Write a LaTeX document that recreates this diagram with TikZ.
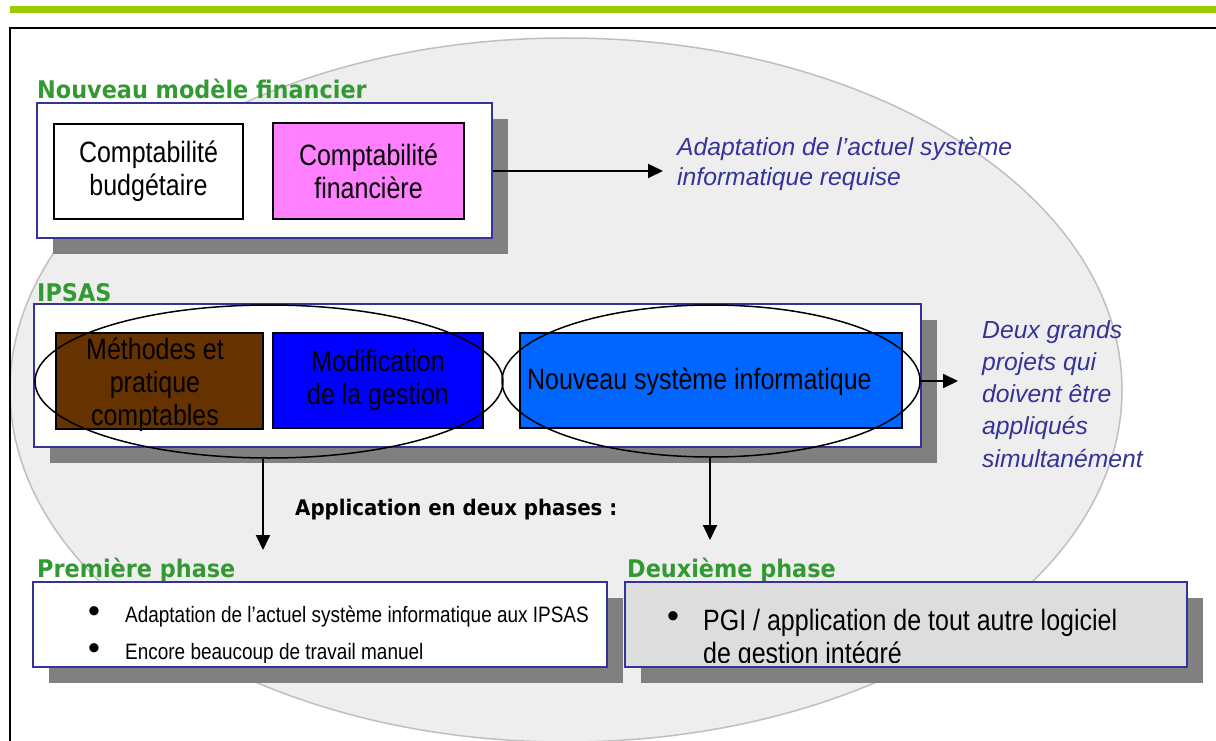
\documentclass[tikz,border=0pt]{standalone}
\usepackage{fontspec}
\setmainfont{Liberation Sans}
\newfontfamily\cond[FakeStretch=0.85]{Liberation Sans}
\newfontfamily\headfont[FakeStretch=0.92]{DejaVu Sans}
\usetikzlibrary{arrows.meta,shapes.geometric,shadows}
\definecolor{hgreen}{HTML}{339933}
\definecolor{navy}{HTML}{333399}
\definecolor{topgreen}{HTML}{99CC00}
\definecolor{magbox}{HTML}{FF80FF}
\definecolor{brownbox}{HTML}{663300}
\definecolor{bluebox}{HTML}{0000FF}
\definecolor{lbluebox}{HTML}{0066FF}
\definecolor{grayfill}{HTML}{DDDDDD}
\definecolor{shadowgray}{HTML}{808080}
\definecolor{bgfill}{HTML}{EEEEEE}
\tikzset{
  heading/.style={font=\headfont\bfseries\fontsize{24.3}{28}\selectfont, text=hgreen, anchor=base west, inner sep=0pt},
  outerbox/.style={draw=navy, line width=2pt, fill=white, rectangle, inner sep=0pt,
     general shadow={fill=shadowgray, shadow xshift=16pt, shadow yshift=-16pt}},
  innerbox/.style={draw=black, line width=1.5pt, rectangle, inner sep=0pt},
  boxtext/.style={font=\cond\fontsize{29.4}{33}\selectfont, align=center, inner sep=0pt},
  note/.style={font=\itshape\fontsize{24.7}{32}\selectfont, text=navy, anchor=base west, inner sep=0pt},
  ring/.style={ellipse, draw=black, line width=1.5pt, inner sep=0pt},
  arr/.style={line width=2pt, -{Triangle[length=15pt,width=14pt]}},
}
\newcommand{\blt}[2]{\makebox[#1][l]{\raisebox{#2}{\rmfamily\fontsize{34}{34}\selectfont •}}}
\begin{document}
\begin{tikzpicture}[x=1pt,y=-1pt]
\useasboundingbox (0,0) rectangle (1216,741);
% background ellipse
\fill[bgfill] (566,390) ellipse [x radius=556pt, y radius=352pt];
\draw[gray!50, line width=1.5pt] (566,390) ellipse [x radius=556pt, y radius=352pt];
% top bar and frame
\draw[topgreen, line width=7pt] (10,9.5) -- (1216,9.5);
\draw[black, line width=2pt] (10,741) -- (10,28) -- (1216,28);

% ---- Nouveau modele financier
\node[heading] (h1) at (37,99) {Nouveau modèle financier};
\node[outerbox, minimum width=455pt, minimum height=135pt] (b1) at (264.5,170.5) {};
\node[innerbox, fill=white, minimum width=189pt, minimum height=95pt] (cb) at (148.5,171.5) {};
\node[boxtext] at (cb.center) {Comptabilité\\budgétaire};
\node[innerbox, fill=magbox, minimum width=191pt, minimum height=96pt] (cf) at (368.5,171) {};
\node[boxtext] at (cf.center) {Comptabilité\\financière};
\coordinate (a1) at (663,171);
\draw[arr] (b1.east |- a1) -- (a1);
\node[note] (n1) at (677,156) {\vtop{\baselineskip=30pt\hbox{Adaptation de l’actuel système}\hbox{informatique requise}}};

% ---- IPSAS
\node[heading] (h2) at (37,301) {IPSAS};
\node[outerbox, minimum width=887pt, minimum height=143pt] (b2) at (477.5,375.5) {};
\node[innerbox, fill=brownbox, minimum width=207pt, minimum height=96pt] (mp) at (159.5,381) {};
\node[boxtext] at (155,385) {Méthodes et\\pratique\\comptables};
\node[innerbox, fill=bluebox, minimum width=210pt, minimum height=95pt] (mg) at (378,380.5) {};
\node[boxtext] at (mg.center) {Modification\\de la gestion};
\node[innerbox, fill=lbluebox, minimum width=382pt, minimum height=95pt] (ns) at (711,380.5) {};
\node[boxtext, anchor=west] at (527,382) {Nouveau système informatique};
\node[ring, minimum width=468pt, minimum height=153pt] (e1) at (269,381.5) {};
\node[ring, minimum width=418pt, minimum height=152pt] (e2) at (711,381) {};
\coordinate (a2) at (958,381);
\draw[arr] (e2.east) -- (a2);
\node[note] (n2) at (982,338) {\vtop{\baselineskip=32.3pt\hbox{Deux grands}\hbox{projets qui}\hbox{doivent être}\hbox{appliqués}\hbox{simultanément}}};

% ---- phases
\coordinate (p1) at (263,550);
\coordinate (p2) at (710,540);
\draw[arr] (e1.south -| p1) -- (p1);
\draw[arr] (e2.south -| p2) -- (p2);
\node[font=\headfont\bfseries\fontsize{21.5}{24}\selectfont, anchor=base west, inner sep=0pt] (ap) at (295,515) {Application en deux phases :};

\node[heading] (h3) at (37,577) {Première phase};
\node[outerbox, minimum width=574pt, minimum height=85pt] (b3) at (320,624.5) {};
\begin{scope}
\clip (34,583) rectangle (606,662);
\node[anchor=base west, inner sep=0pt, font=\cond\fontsize{22.3}{37}\selectfont] (t3) at (88,622)
  {\vtop{\baselineskip=37pt\hbox{\blt{37pt}{0pt}Adaptation de l’actuel système informatique aux IPSAS}\hbox{\blt{37pt}{0pt}Encore beaucoup de travail manuel}}};
\end{scope}

\node[heading] (h4) at (627,577) {Deuxième phase};
\node[outerbox, fill=grayfill, minimum width=562pt, minimum height=85pt] (b4) at (906,624.5) {};
\begin{scope}
\clip (626,583) rectangle (1186,662);
\node[anchor=base west, inner sep=0pt, font=\cond\fontsize{29.4}{33}\selectfont] (t4) at (667,630)
  {\vtop{\baselineskip=33pt\hbox{\blt{36pt}{2.5pt}PGI / application de tout autre logiciel}\hbox{\hspace*{36pt}de gestion intégré}}};
\end{scope}
\end{tikzpicture}
\end{document}
